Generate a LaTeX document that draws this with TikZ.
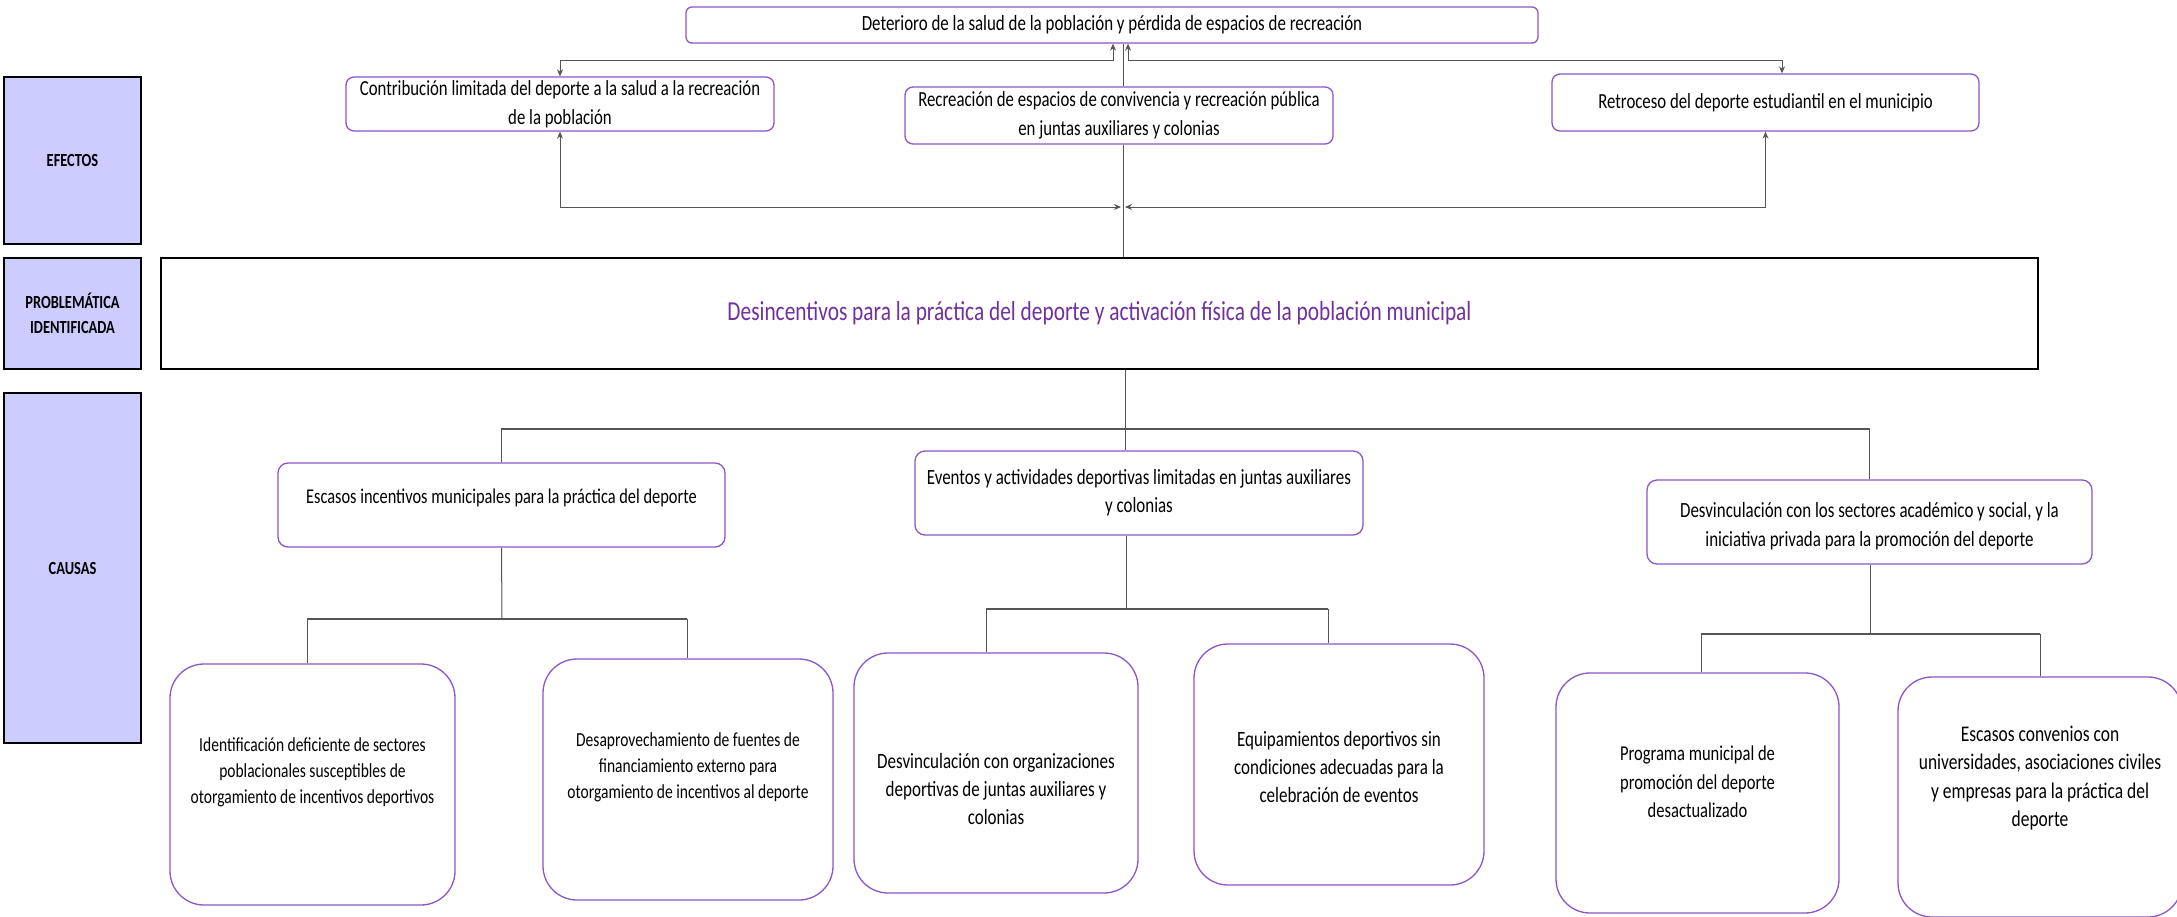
\documentclass[tikz,border=0pt]{standalone}
\usepackage{fontspec}
\setmainfont{Carlito}[FakeStretch=0.78]
\usetikzlibrary{arrows.meta}
\definecolor{bpurple}{RGB}{140,85,200}
\definecolor{tpurple}{RGB}{112,48,160}
\definecolor{lav}{RGB}{204,204,255}
\definecolor{cline}{RGB}{85,85,85}
\newcommand{\fs}[2]{\fontsize{#1}{#2}\selectfont}
\begin{document}
\begin{tikzpicture}[x=1pt,y=-1pt,
  rbox/.style={draw=bpurple, line width=1.3pt, rounded corners=#1, align=center, inner sep=0pt, fill=white},
  ttxt/.style={align=center, inner sep=0pt},
  lbl/.style={draw=black, line width=2pt, fill=lav, align=center, inner sep=0pt, minimum width=137pt, font=\bfseries\fs{18.5}{24.5}},
  conn/.style={draw=cline, line width=1pt},
  bconn/.style={draw=cline, line width=1.8pt},
  tip/.style={{Stealth[length=7pt,width=6pt]}-{Stealth[length=7pt,width=6pt]}}
]
\useasboundingbox (0,0) rectangle (2177,916);

% left labels
\node[lbl, minimum height=167pt] (lefx) at (72.5,160.5) {EFECTOS};
\node[lbl, minimum height=111pt] (lprob) at (72.5,313.5) {PROBLEMÁTICA\\IDENTIFICADA};
\node[lbl, minimum height=350pt] (lcau) at (72.5,568) {CAUSAS};

% effects
\node[rbox=6pt, font=\fs{21.7}{28}, minimum width=852pt, minimum height=36pt] (top) at (1112,25) {Deterioro de la salud de la población y pérdida de espacios de recreación};
\node[rbox=8pt, font=\fs{21.5}{29}, minimum width=428pt, minimum height=54pt] (e1) at (560,104) {Contribución limitada del deporte a la salud a la recreación\\de la población};
\node[rbox=8pt, font=\fs{21.5}{29}, minimum width=428pt, minimum height=57pt] (e2) at (1119,115.5) {Recreación de espacios de convivencia y recreación pública\\en juntas auxiliares y colonias};
\node[rbox=8pt, font=\fs{21.5}{29}, minimum width=427pt, minimum height=57pt] (e3) at (1765.5,102.5) {Retroceso del deporte estudiantil en el municipio};

% main problem
\node[draw=black, line width=2pt, minimum width=1877pt, minimum height=111pt, inner sep=0pt, text=tpurple, font=\fs{27.4}{32}] (main) at (1099.5,313.5) {Desincentivos para la práctica del deporte y activación física de la población municipal};

% causes
\node[rbox=10pt, font=\fs{21}{28}, minimum width=447pt, minimum height=84pt] (c1) at (501.5,505) {};
\node[ttxt, font=\fs{21}{28}] (c1t) at (501.5,498) {Escasos incentivos municipales para la práctica del deporte};
\node[rbox=10pt, font=\fs{21.7}{28}, minimum width=448pt, minimum height=84pt] (c2) at (1139,493) {Eventos y actividades deportivas limitadas en juntas auxiliares\\y colonias};
\node[rbox=10pt, font=\fs{21.7}{28.5}, minimum width=445pt, minimum height=84pt] (c3) at (1869.5,522) {};
\node[ttxt, font=\fs{21.7}{28.5}] (c3t) at (1869.5,526) {Desvinculación con los sectores académico y social, y la\\iniciativa privada para la promoción del deporte};

% sub-causes
\node[rbox=34pt, minimum width=285pt, minimum height=241pt] (s1) at (312.5,784.5) {};
\node[rbox=34pt, minimum width=290pt, minimum height=241pt] (s2) at (688,779.5) {};
\node[rbox=34pt, minimum width=284pt, minimum height=240pt] (s3) at (996,773) {};
\node[rbox=34pt, minimum width=290pt, minimum height=241pt] (s4) at (1339,764.5) {};
\node[rbox=34pt, minimum width=283pt, minimum height=240pt] (s5) at (1697.5,793) {};
\node[rbox=34pt, minimum width=284pt, minimum height=240pt] (s6) at (2040,797) {};
\node[ttxt, font=\fs{19.9}{25.8}] (s1t) at (312.5,772.5) {Identificación deficiente de sectores\\poblacionales susceptibles de\\otorgamiento de incentivos deportivos};
\node[ttxt, font=\fs{19.9}{25.8}] (s2t) at (688,767) {Desaprovechamiento de fuentes de\\financiamiento externo para\\otorgamiento de incentivos al deporte};
\node[ttxt, font=\fs{21.8}{28.5}] (s3t) at (996,789) {Desvinculación con organizaciones\\deportivas de juntas auxiliares y\\colonias};
\node[ttxt, font=\fs{21.8}{28}] (s4t) at (1339,767) {Equipamientos deportivos sin\\condiciones adecuadas para la\\celebración de eventos};
\node[ttxt, font=\fs{21.2}{28.7}] (s5t) at (1697.5,782) {Programa municipal de\\promoción del deporte\\desactualizado};
\node[ttxt, font=\fs{22.4}{28.6}] (s6t) at (2040,778) {Escasos convenios con\\universidades, asociaciones civiles\\y empresas para la práctica del\\deporte};

% effect connectors
\coordinate (tl) at (1113,60);
\coordinate (tr) at (1128,60);
\coordinate (vx) at (1123,207);
\coordinate (jl) at (1121,207);
\coordinate (jr) at (1125,207);
\coordinate (e3a) at (1782,60);
\draw[conn, tip] (e1.north) |- (tl) -- (tl |- top.south);
\draw[conn, tip] (tr |- top.south) -- (tr) -| (e3a |- e3.north);
\draw[conn] (vx |- e2.north) -- (vx |- top.south);
\draw[conn] (vx |- e2.south) -- (vx |- main.north);
\draw[conn, tip] (e1.south) |- (jl);
\draw[conn, tip] (jr) -| (e3.south);

% cause connectors
\coordinate (mj) at (1125,429);
\draw[conn] (mj |- main.south) -- (mj |- c2.north);
\draw[bconn] (c1.north) -- (c1.north |- mj) -- (c3.north |- mj);
\draw[conn] (c3.north |- mj) -- (c3.north);

\coordinate (h1) at (502,619);
\coordinate (a1) at (307,619);
\coordinate (b1) at (687,619);
\draw[conn] (c1.south) -- (h1);
\draw[bconn] (a1) -- (b1);
\draw[conn] (a1) -- (a1 |- s1.north);
\draw[conn] (b1) -- (b1 |- s2.north);

\coordinate (h2) at (1126,609);
\coordinate (a2) at (986,609);
\coordinate (b2) at (1328,609);
\draw[conn] (h2 |- c2.south) -- (h2);
\draw[bconn] (a2) -- (b2);
\draw[conn] (a2) -- (a2 |- s3.north);
\draw[conn] (b2) -- (b2 |- s4.north);

\coordinate (h3) at (1870,634);
\coordinate (a3) at (1701,634);
\coordinate (b3) at (2040,634);
\draw[conn] (h3 |- c3.south) -- (h3);
\draw[bconn] (a3) -- (b3);
\draw[conn] (a3) -- (a3 |- s5.north);
\draw[conn] (b3) -- (b3 |- s6.north);
\end{tikzpicture}
\end{document}
